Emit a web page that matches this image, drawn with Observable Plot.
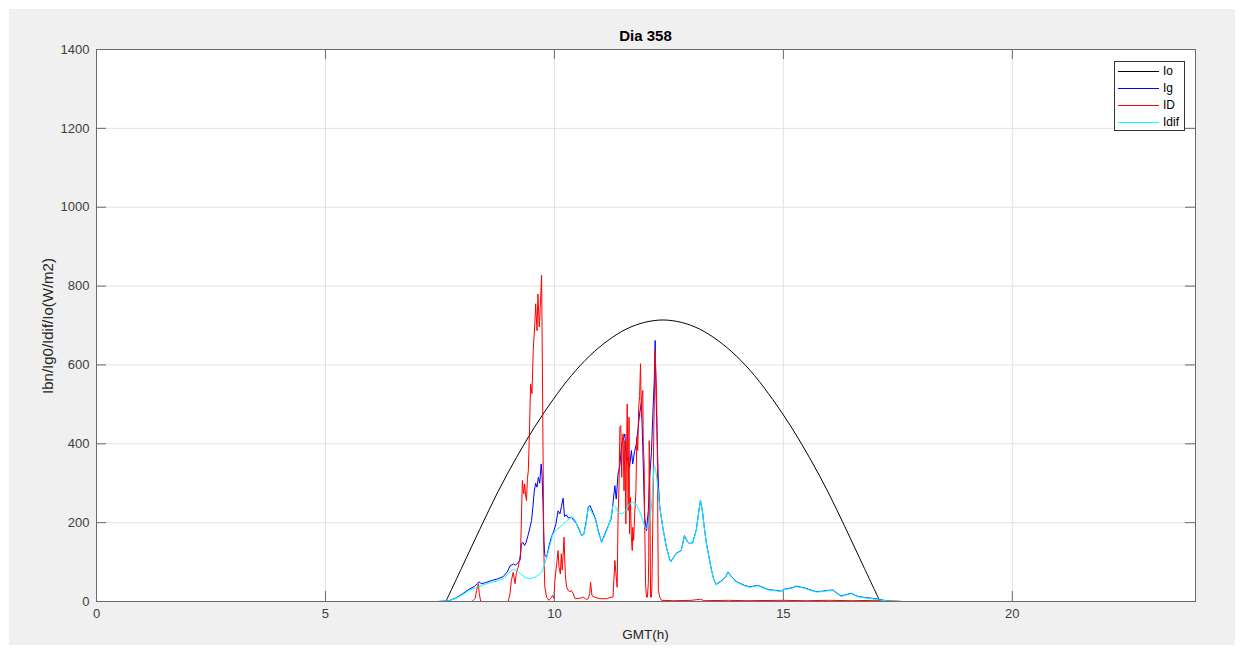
<!DOCTYPE html>
<html>
<head>
<meta charset="utf-8">
<script src="https://cdn.jsdelivr.net/npm/d3@7"></script>
<script src="https://cdn.jsdelivr.net/npm/@observablehq/plot@0.6"></script>
<style>
  body { margin: 0; background: #ffffff; width: 1244px; height: 655px; overflow: hidden;
         font-family: "Liberation Sans", Arial, Helvetica, sans-serif; position: relative; }
  #fig { position: absolute; left: 9px; top: 9px; width: 1226px; height: 636px; background: #f0f0f0; }
  #chart { position: absolute; left: 0; top: 0; }
  .lbl { position: absolute; color: #262626; white-space: nowrap; }
  #title { left: 96px; width: 1099px; top: 27px; text-align: center; font-weight: bold; color: #000; font-size: 15px; }
  #xlabel { left: 96px; width: 1099px; top: 627px; text-align: center; font-size: 13.5px; }
  #ylabel { left: 47px; top: 326px; transform: translate(-50%, -50%) rotate(-90deg); font-size: 15px; }
  #legend { position: absolute; left: 1114px; top: 61px; width: 69px; height: 68px; background: #fff;
            border: 1px solid #333; font-size: 12px; color: #000; }
  .row { position: absolute; left: 0; height: 16px; width: 69px; }
  .row svg { position: absolute; left: 3px; top: 0; }
  .row span { position: absolute; left: 48px; top: 1px; }
</style>
</head>
<body>
<div id="fig"></div>
<div id="chart"></div>
<div class="lbl" id="title">Dia 358</div>
<div class="lbl" id="xlabel">GMT(h)</div>
<div class="lbl" id="ylabel">Ibn/Ig0/Idif/Io(W/m2)</div>
<div id="legend"></div>
<script>
// Axis ticks
const xTicks = [0, 5, 10, 15, 20];
const yTicks = [0, 200, 400, 600, 800, 1000, 1200, 1400];

// Series names and colours (legend order = drawing order)
const seriesNames = ["Io", "Ig", "ID", "Idif"];
const seriesColors = ["#000000", "#0000ff", "#ff0000", "#00ffff"];

// Extraterrestrial irradiance Io during daylight [hour, W/m2]
const ioDay = [
  [7.63, 0], [7.97, 84], [8.37, 183], [8.77, 279], [9.17, 365], [9.57, 443], [9.97, 512], [10.37, 573],
  [10.77, 623], [11.17, 662], [11.57, 691], [11.97, 708], [12.37, 714], [12.77, 708], [13.17, 691],
  [13.57, 662], [13.97, 623], [14.37, 573], [14.77, 512], [15.17, 443], [15.57, 365], [15.97, 279],
  [16.37, 183], [16.77, 84], [17.11, 0]
];
// Io at night (zero)
const ioNight = [
  [[0, 0], [7.63, 0]],
  [[17.11, 0], [24, 0]]
];

// Global irradiance Ig [hour, W/m2]
const ig = [
  [7.10, 0], [7.45, 0], [7.70, 2], [7.85, 9], [8.00, 20], [8.12, 30], [8.25, 38], [8.32, 46], [8.36, 50],
  [8.40, 45], [8.50, 48], [8.62, 53], [8.75, 57], [8.88, 63], [8.97, 75], [9.03, 90], [9.10, 95], [9.15, 92],
  [9.20, 98], [9.25, 105], [9.28, 146], [9.31, 150], [9.35, 142], [9.38, 150], [9.43, 170], [9.47, 190],
  [9.50, 205], [9.53, 240], [9.56, 280], [9.59, 300], [9.62, 290], [9.65, 315], [9.68, 300], [9.71, 349],
  [9.73, 320], [9.75, 250], [9.77, 155], [9.79, 118], [9.83, 112], [9.88, 140], [9.94, 165], [9.99, 180],
  [10.03, 195], [10.08, 230], [10.12, 222], [10.15, 240], [10.19, 262], [10.22, 215], [10.26, 220],
  [10.30, 212], [10.37, 214], [10.43, 205], [10.48, 198], [10.55, 180], [10.59, 167], [10.64, 170],
  [10.69, 200], [10.74, 240], [10.78, 243], [10.84, 226], [10.90, 208], [10.96, 178], [11.03, 150],
  [11.09, 168], [11.17, 190], [11.24, 210], [11.28, 250], [11.32, 294], [11.35, 260], [11.39, 324],
  [11.43, 345], [11.47, 400], [11.50, 410], [11.54, 425], [11.57, 355], [11.61, 366], [11.64, 340],
  [11.68, 383], [11.71, 349], [11.75, 380], [11.79, 400], [11.82, 430], [11.86, 476], [11.90, 505],
  [11.93, 391], [11.97, 214], [12.01, 180], [12.05, 230], [12.08, 315], [12.12, 380], [12.15, 476],
  [12.18, 560], [12.20, 662], [12.22, 520], [12.24, 434], [12.27, 300], [12.30, 240], [12.37, 186],
  [12.44, 141], [12.50, 113], [12.54, 101], [12.60, 111], [12.66, 122], [12.72, 126], [12.77, 130],
  [12.84, 167], [12.90, 153], [12.95, 147], [13.02, 149], [13.10, 183], [13.15, 226], [13.19, 257],
  [13.23, 231], [13.28, 181], [13.32, 147], [13.38, 111], [13.43, 80], [13.48, 56], [13.53, 43],
  [13.60, 49], [13.68, 55], [13.74, 63], [13.79, 75], [13.84, 67], [13.90, 59], [13.97, 51], [14.05, 46],
  [14.15, 41], [14.26, 37], [14.35, 39], [14.44, 41], [14.55, 36], [14.65, 31], [14.75, 29], [14.85, 28],
  [14.95, 26], [15.02, 31], [15.10, 33], [15.20, 35], [15.28, 39], [15.35, 37], [15.45, 35], [15.55, 31],
  [15.65, 27], [15.72, 25], [15.85, 26], [15.95, 28], [16.08, 29], [16.15, 23], [16.26, 14], [16.36, 17],
  [16.48, 21], [16.58, 15], [16.66, 12], [16.80, 10], [16.95, 8], [17.10, 5], [17.30, 1], [17.60, 0]
];

// Direct normal irradiance ID [hour, W/m2]
const id = [
  [7.30, 0], [8.20, 0], [8.27, 8], [8.30, 28], [8.34, 45], [8.36, 20], [8.39, 0], [8.60, 0], [8.80, 0],
  [8.99, 0], [9.03, 20], [9.06, 53], [9.10, 74], [9.14, 45], [9.17, 74], [9.21, 87], [9.26, 121],
  [9.28, 214], [9.30, 307], [9.33, 273], [9.35, 298], [9.37, 270], [9.39, 256], [9.41, 310], [9.43, 332],
  [9.45, 408], [9.48, 552], [9.51, 527], [9.54, 645], [9.57, 696], [9.59, 755], [9.62, 687], [9.64, 780],
  [9.67, 696], [9.69, 746], [9.72, 827], [9.73, 696], [9.75, 400], [9.77, 121], [9.79, 36], [9.83, 11],
  [9.88, 3], [9.92, 8], [9.96, 15], [9.99, 8], [10.01, 53], [10.05, 96], [10.08, 129], [10.10, 87],
  [10.13, 70], [10.15, 121], [10.17, 80], [10.19, 117], [10.21, 163], [10.24, 62], [10.27, 36],
  [10.30, 28], [10.34, 25], [10.37, 28], [10.41, 20], [10.45, 7], [10.55, 8], [10.63, 11], [10.70, 5],
  [10.74, 7], [10.77, 20], [10.79, 49], [10.82, 15], [10.88, 11], [10.99, 7], [11.14, 7], [11.24, 11],
  [11.28, 11], [11.32, 104], [11.35, 62], [11.37, 36], [11.39, 214], [11.41, 290], [11.43, 442],
  [11.45, 446], [11.47, 315], [11.48, 400], [11.50, 425], [11.52, 281], [11.54, 408], [11.56, 197],
  [11.57, 324], [11.59, 501], [11.61, 231], [11.63, 467], [11.64, 172], [11.66, 264], [11.68, 163],
  [11.70, 129], [11.71, 188], [11.73, 155], [11.75, 214], [11.78, 281], [11.80, 417], [11.82, 383],
  [11.84, 493], [11.86, 520], [11.88, 603], [11.90, 467], [11.91, 518], [11.93, 535], [11.94, 400],
  [11.96, 349], [11.97, 214], [11.99, 45], [12.01, 11], [12.03, 11], [12.05, 45], [12.06, 112],
  [12.07, 408], [12.08, 350], [12.10, 11], [12.12, 11], [12.13, 45], [12.15, 214], [12.17, 434],
  [12.20, 637], [12.21, 594], [12.23, 535], [12.25, 349], [12.26, 172], [12.27, 28], [12.30, 11],
  [12.34, 3], [12.60, 2], [13.00, 3], [13.20, 6], [13.25, 2], [13.80, 3], [14.20, 2], [15.00, 3],
  [15.50, 2], [16.00, 3], [16.50, 2], [17.00, 3], [17.40, 1], [17.60, 0]
];

// Diffuse irradiance Idif [hour, W/m2]
const idif = [
  [7.10, 0], [7.45, 0], [7.70, 2], [7.85, 8], [8.00, 18], [8.12, 27], [8.30, 36], [8.45, 42], [8.60, 48],
  [8.75, 52], [8.88, 58], [8.97, 68], [9.05, 78], [9.12, 81], [9.20, 76], [9.28, 68], [9.36, 61],
  [9.46, 58], [9.56, 61], [9.64, 66], [9.72, 74], [9.79, 96], [9.86, 125], [9.92, 150], [9.97, 172],
  [10.05, 182], [10.12, 188], [10.19, 196], [10.27, 205], [10.34, 212], [10.40, 214], [10.46, 205],
  [10.52, 185], [10.59, 167], [10.64, 170], [10.69, 195], [10.74, 238], [10.78, 232], [10.84, 222],
  [10.90, 205], [10.96, 175], [11.03, 150], [11.09, 165], [11.17, 188], [11.23, 210], [11.28, 245],
  [11.33, 240], [11.39, 226], [11.46, 222], [11.52, 226], [11.57, 232], [11.64, 248], [11.71, 252],
  [11.79, 246], [11.86, 228], [11.92, 210], [11.97, 192], [12.03, 183], [12.08, 205], [12.12, 240],
  [12.15, 300], [12.18, 345], [12.21, 335], [12.25, 300], [12.30, 240], [12.37, 185], [12.44, 140],
  [12.50, 112], [12.54, 100], [12.60, 110], [12.66, 121], [12.72, 125], [12.77, 129], [12.84, 166],
  [12.90, 152], [12.95, 146], [13.02, 148], [13.10, 182], [13.15, 225], [13.19, 256], [13.23, 230],
  [13.28, 180], [13.32, 146], [13.38, 110], [13.43, 79], [13.48, 55], [13.53, 42], [13.60, 48],
  [13.68, 54], [13.74, 62], [13.79, 74], [13.84, 66], [13.90, 58], [13.97, 50], [14.05, 45], [14.15, 40],
  [14.26, 36], [14.35, 38], [14.44, 40], [14.55, 35], [14.65, 30], [14.75, 28], [14.85, 27], [14.95, 25],
  [15.02, 30], [15.10, 32], [15.20, 34], [15.28, 38], [15.35, 36], [15.45, 34], [15.55, 30], [15.65, 26],
  [15.72, 24], [15.85, 25], [15.95, 27], [16.08, 28], [16.15, 22], [16.26, 13], [16.36, 16], [16.48, 20],
  [16.58, 14], [16.66, 11], [16.80, 9], [16.95, 7], [17.10, 4], [17.30, 1], [17.60, 0]
];

const W = 1244, H = 655;
const mL = 96, mR = 49, mT = 49, mB = 54;
const innerW = W - mL - mR, innerH = H - mT - mB;
const tickLen = 10;
const axisColor = "#6b6b6b";
const gridColor = "#e2e2e2";

const px = d => d[0], py = d => d[1];

const chart = Plot.plot({
  width: W, height: H,
  marginLeft: mL, marginRight: mR, marginTop: mT, marginBottom: mB,
  x: { domain: [0, 24] },
  y: { domain: [0, 1400] },
  style: { background: "transparent", color: "#404040", fontSize: "13px",
           fontFamily: "'Liberation Sans', Arial, Helvetica, sans-serif", overflow: "visible" },
  marks: [
    Plot.frame({ fill: "#ffffff", stroke: null }),
    Plot.gridX(xTicks, { stroke: gridColor, strokeOpacity: 1 }),
    Plot.gridY(yTicks, { stroke: gridColor, strokeOpacity: 1 }),
    // Io: smooth daylight arc plus zero at night
    Plot.line(ioDay, { x: px, y: py, stroke: seriesColors[0], strokeWidth: 1, curve: "catmull-rom", clip: true }),
    ...ioNight.map(seg => Plot.line(seg, { x: px, y: py, stroke: seriesColors[0], strokeWidth: 1 })),
    // measured series
    ...[ig, id, idif].map((s, i) => Plot.line(s, {
      x: px, y: py, stroke: seriesColors[i + 1], strokeWidth: 1, clip: true
    })),
    // inward ticks on all four sides
    Plot.ruleY(yTicks, { stroke: axisColor, insetRight: innerW - tickLen }),
    Plot.ruleY(yTicks, { stroke: axisColor, insetLeft: innerW - tickLen }),
    Plot.ruleX(xTicks, { stroke: axisColor, insetTop: innerH - tickLen }),
    Plot.ruleX(xTicks, { stroke: axisColor, insetBottom: innerH - tickLen }),
    Plot.frame({ stroke: axisColor, strokeWidth: 1 }),
    Plot.axisX(xTicks, { tickSize: 0, tickPadding: 7, label: null, tickFormat: d3.format("d") }),
    Plot.axisY(yTicks, { tickSize: 0, tickPadding: 7, label: null, tickFormat: d3.format("d") })
  ]
});
document.getElementById("chart").appendChild(chart);

// Legend
const legend = document.getElementById("legend");
seriesNames.forEach((name, i) => {
  const row = document.createElement("div");
  row.className = "row";
  row.style.top = (1 + i * 17) + "px";
  row.innerHTML = `<svg width="42" height="16"><line x1="0" x2="41" y1="8.5" y2="8.5" stroke="${seriesColors[i]}" stroke-width="1"/></svg><span>${name}</span>`;
  legend.appendChild(row);
});
</script>
</body>
</html>
